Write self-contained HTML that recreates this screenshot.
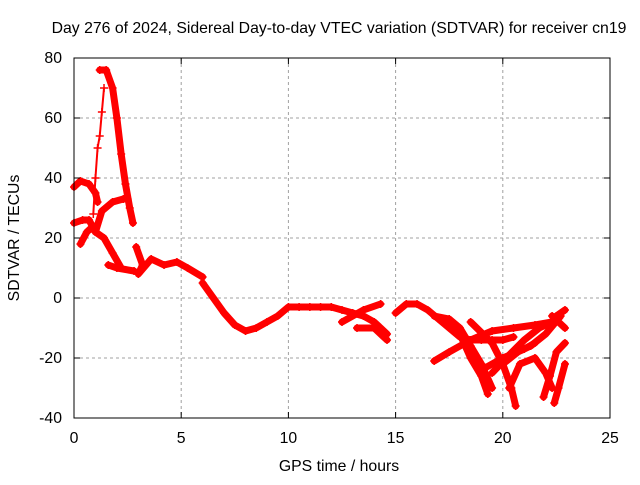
<!DOCTYPE html>
<html><head><meta charset="utf-8"><style>
body{margin:0;background:#fff}
svg text{font-family:"Liberation Sans",sans-serif;font-size:15.8px;fill:#000}
</style></head><body>
<svg id="c" width="640" height="480">
<text x="339" y="33" text-anchor="middle">Day 276 of 2024, Sidereal Day-to-day VTEC variation (SDTVAR) for receiver cn19</text>
<text x="339" y="471" text-anchor="middle">GPS time / hours</text>
<text transform="translate(19,238) rotate(-90)" text-anchor="middle">SDTVAR / TECUs</text>
<g id="grid"></g><g id="series"></g>
<rect x="74" y="58" width="536" height="360" fill="none" stroke="#000" stroke-width="1"/>
<g id="ticks"></g>
</svg>
<script>
const xTicks=[0,5,10,15,20,25];
const yTicks=[-40,-20,0,20,40,60,80];
const traceA=[[1.2,76],[1.5,76],[1.8,70],[2.0,60],[2.2,48],[2.4,38],[2.6,30],[2.75,25]];
const traceB=[[0.9,28],[1.0,40],[1.1,50],[1.2,54],[1.3,62],[1.4,70]];
const traceC=[[0,37],[0.3,39],[0.7,38],[1.0,35],[1.1,32]];
const traceD=[[0,25],[0.4,26],[0.7,26],[1.0,22]];
const traceE=[[0.3,18],[0.6,22],[0.9,24]];
const traceF=[[1.0,22],[1.3,29],[1.8,32],[2.3,33],[2.5,33]];
const traceG=[[1.0,22],[1.4,20],[1.8,15],[2.2,10]];
const traceH=[[1.6,11],[2.0,10],[2.8,9]];
const traceI=[[2.9,17],[3.2,11],[3.0,8],[3.6,13],[4.2,11],[4.8,12],[5.3,10],[6.0,7]];
const traceJ=[[6.0,5],[6.5,0],[7.0,-5],[7.5,-9],[8.0,-11],[8.5,-10],[9.0,-8],[9.5,-6],[10,-3],[10.5,-3],[11,-3],[11.5,-3],[12,-3],[12.5,-4],[13,-5],[13.5,-6],[14,-8],[14.6,-12]];
const traceK=[[12.5,-8],[13.5,-4],[14.3,-2]];
const traceL=[[13.2,-10],[14,-10],[14.6,-14]];
const traceM=[[15,-5],[15.5,-2],[16,-2],[16.5,-4],[17,-7],[17.5,-10],[18,-13],[18.5,-14],[19,-14],[19.5,-14],[20,-14],[20.5,-13]];
const traceN=[[16.8,-6],[17.5,-7],[18,-10],[18.5,-16],[19,-22],[19.5,-30]];
const traceO=[[17.3,-8],[18,-12],[18.5,-20],[19,-26],[19.3,-32]];
const traceP=[[16.8,-21],[17.5,-18],[18.5,-14],[19.5,-11],[20.5,-10],[21.5,-9],[22.3,-8]];
const traceQ=[[18.5,-8],[19.5,-15],[20,-22],[20.4,-30],[20.6,-36]];
const traceR=[[20,-22],[20.7,-18],[21.3,-16],[22,-12],[22.7,-6]];
const traceS=[[19.5,-25],[20.3,-19],[21,-14],[21.7,-10],[22.3,-8]];
const traceT=[[20.3,-30],[20.8,-22],[21.5,-20],[22,-25],[22.3,-30]];
const traceU=[[21.9,-33],[22.2,-26],[22.5,-18],[22.9,-15]];
const traceV=[[22.3,-8],[22.5,-6],[22.9,-4]];
const traceW=[[22.3,-6],[22.6,-8],[22.9,-10]];
const traceX=[[22.4,-35],[22.6,-30],[22.9,-22]];
const traceY=[[19,-24],[20,-20],[21,-17],[21.5,-15]];
const traces=[traceA,traceB,traceC,traceD,traceE,traceF,traceG,traceH,traceI,traceJ,traceK,traceL,traceM,traceN,traceO,traceP,traceQ,traceR,traceS,traceT,traceU,traceV,traceW,traceX,traceY];
const NS="http://www.w3.org/2000/svg";
const X=v=>74+v*536/25, Y=v=>298-v*3;
const grid=document.getElementById('grid'),ticks=document.getElementById('ticks'),ser=document.getElementById('series');
function mk(t,a,p){const e=document.createElementNS(NS,t);for(const k in a)e.setAttribute(k,a[k]);p.appendChild(e);return e;}
xTicks.forEach(v=>{const x=X(v);
 if(v>0&&v<25){const g=mk('line',{x1:x,y1:58,x2:x,y2:418,stroke:'#a0a0a0','stroke-dasharray':'3,3'},grid);
 
 }
 mk('line',{x1:x,y1:418,x2:x,y2:412,stroke:'#000'},ticks);mk('line',{x1:x,y1:58,x2:x,y2:64,stroke:'#000'},ticks);
 const t=mk('text',{x:x,y:443,'text-anchor':'middle'},ticks);t.textContent=v;
 
 });
yTicks.forEach(v=>{const y=Y(v);
 if(v>-40&&v<80){const g=mk('line',{x1:74,y1:y,x2:610,y2:y,stroke:'#a0a0a0','stroke-dasharray':'3,3'},grid);
 
 }
 mk('line',{x1:74,y1:y,x2:80,y2:y,stroke:'#000'},ticks);mk('line',{x1:610,y1:y,x2:604,y2:y,stroke:'#000'},ticks);
 const t=mk('text',{x:62,y:y+5,'text-anchor':'end'},ticks);t.textContent=v;
 
 });
traces.forEach((tr,i)=>{
 const g=mk('g',{},ser);
 
 
 const thin=(tr===traceB);
 mk('polyline',{points:tr.map(p=>X(p[0])+','+Y(p[1])).join(' '),fill:'none',stroke:'#f00','stroke-width':thin?2:7,'stroke-linejoin':'round','stroke-linecap':'round'},g);
 tr.forEach(p=>{const x=X(p[0]),y=Y(p[1]);
  mk('path',{d:`M${x-4},${y}H${x+4}M${x},${y-4}V${y+4}`,stroke:'#f00','stroke-width':1.5},g);});
});
</script>
</body></html>
